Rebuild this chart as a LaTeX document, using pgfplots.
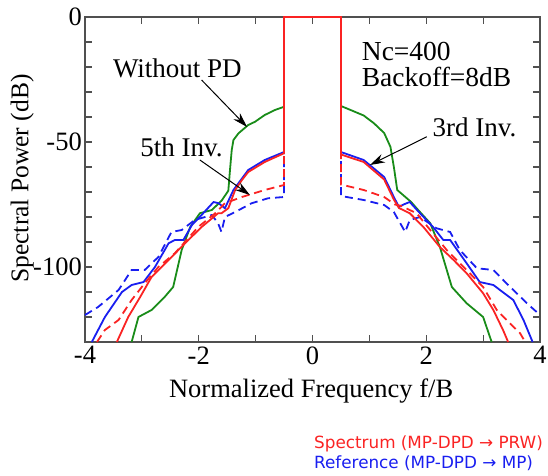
\documentclass[border=0pt]{standalone}
\usepackage{fontspec}
\setmainfont{Liberation Serif}
\newfontfamily\dejavu{DejaVu Sans}
\usepackage{pgfplots}
\pgfplotsset{compat=1.18}
\usetikzlibrary{arrows.meta}
\definecolor{cgreen}{RGB}{25,140,25}
\definecolor{cred}{RGB}{250,35,35}
\definecolor{cblue}{RGB}{25,30,240}
\definecolor{axgray}{RGB}{80,80,80}
\begin{document}
\begin{tikzpicture}[x=1pt,y=1pt]
\path[use as bounding box] (0,0) rectangle (548,475);
\begin{axis}[
  at={(85pt,133pt)}, anchor=south west,
  width=455pt, height=325pt, scale only axis,
  xmin=-4, xmax=4, ymin=-130, ymax=0,
  clip=false,
  xtick={-4,-3,...,4}, xticklabels={-4,,-2,,0,,2,,4},
  ytick={-120,-110,...,0}, yticklabels={,,-100,,,,,-50,,,,,0},
  tick align=inside, major tick length=7pt,
  every tick/.style={line width=1.1pt, axgray},
  axis line style={line width=1.4pt, axgray},
  ticklabel style={font=\fontsize{26.5}{30}\selectfont},
  yticklabel style={inner sep=0pt, xshift=-3pt},
  xticklabel style={yshift=-1pt},
  xlabel={Normalized Frequency f/B},
  xlabel style={at={(rel axis cs:0.497,-0.172)}, anchor=base, font=\fontsize{26.5}{30}\selectfont, inner sep=0pt},
  ylabel={Spectral Power (dB)},
  ylabel style={at={(rel axis cs:-0.138,0.503)}, anchor=center, rotate=0, font=\fontsize{25.5}{30}\selectfont, inner sep=0pt},
  every axis plot/.append style={line width=1.8pt},
]
% Without PD
\addplot[cgreen] coordinates {
(-3.18,-130) (-3.06,-120) (-2.83,-117.2) (-2.6,-112) (-2.45,-108) (-2.3,-93.2) (-2.15,-84) (-1.98,-78.5) (-1.77,-77.2) (-1.6,-73.5) (-1.48,-69.5) (-1.45,-61) (-1.42,-53.2) (-1.39,-49.2) (-1.3,-46.5) (-1.13,-43.2) (-1.01,-41.9) (-0.84,-39.2) (-0.66,-37.2) (-0.5,-35.9)
(-0.5,0) (0.5,0)
(0.5,-35.6) (0.67,-37.2) (0.9,-39.4) (1.08,-42.5) (1.26,-46.4) (1.37,-51.9) (1.43,-59.9) (1.49,-69.2) (1.73,-73.9) (1.85,-77) (2.07,-82.5) (2.24,-92) (2.45,-108) (2.71,-114.5) (3.0,-120) (3.15,-130)
};
% Reference 5th (blue dashed)
\addplot[cblue, dash pattern=on 8pt off 5pt] coordinates {
(-4,-119.2) (-3.77,-116) (-3.41,-109.2) (-3.18,-101.2) (-2.95,-101.2) (-2.71,-96) (-2.48,-86) (-2.3,-85.2) (-2.07,-81.2) (-1.77,-79.2) (-1.66,-82.5) (-1.6,-86) (-1.54,-80) (-1.36,-78) (-1.07,-74.5) (-0.78,-72.5) (-0.5,-72)
(-0.5,0) (0.5,0)
(0.5,-71.6) (0.9,-73.2) (1.26,-75.2) (1.43,-78) (1.48,-80) (1.63,-86) (1.71,-81.2) (1.89,-80) (2.18,-84.5) (2.42,-86) (2.59,-93.2) (2.89,-100.5) (3.18,-101.2) (3.41,-106.5) (3.77,-114.5) (4.0,-119.2)
};
% Reference 3rd (blue solid)
\addplot[cblue] coordinates {
(-3.88,-130) (-3.65,-120) (-3.35,-110) (-3.18,-107.2) (-2.97,-106) (-2.77,-100) (-2.53,-90.5) (-2.42,-89.2) (-2.27,-89.2) (-2.12,-83.2) (-1.95,-79.2) (-1.74,-74) (-1.65,-74.5) (-1.54,-76.5) (-1.39,-69.2) (-1.13,-61.2) (-0.84,-57.2) (-0.5,-54)
(-0.5,0) (0.5,0)
(0.5,-54) (0.9,-57.2) (1.26,-64) (1.43,-72) (1.52,-76) (1.6,-75) (1.71,-74) (1.89,-78.5) (2.12,-84) (2.3,-89.2) (2.42,-89.2) (2.71,-98.5) (2.94,-106) (3.18,-107.2) (3.53,-113.2) (3.71,-121.2) (3.87,-130)
};
% Spectrum 5th (red dashed)
\addplot[cred, dash pattern=on 8pt off 5pt] coordinates {
(-3.79,-130) (-3.65,-125.2) (-3.41,-121.2) (-3.18,-113.2) (-2.95,-106.5) (-2.71,-100) (-2.42,-94.5) (-2.01,-84) (-1.71,-78.5) (-1.54,-74.5) (-1.24,-72) (-0.84,-69.2) (-0.5,-67.2)
(-0.5,0) (0.5,0)
(0.5,-67) (0.9,-69.2) (1.26,-72) (1.45,-75) (1.55,-75.5) (1.83,-78.5) (2.07,-85.2) (2.36,-93.2) (2.71,-101.2) (3.0,-108) (3.24,-117.2) (3.47,-122.5) (3.65,-126.5) (3.74,-130)
};
% Spectrum 3rd (red solid)
\addplot[cred] coordinates {
(-3.44,-130) (-3.24,-120) (-3.03,-112) (-2.83,-104) (-2.53,-97.2) (-2.24,-90.5) (-1.95,-84) (-1.66,-78.5) (-1.6,-78.5) (-1.48,-76.5) (-1.36,-69.2) (-1.24,-65.2) (-1.13,-62) (-0.84,-58) (-0.5,-54.5)
(-0.5,0) (0.5,0)
(0.5,-55) (0.9,-58) (1.26,-65) (1.43,-73) (1.52,-76.4) (1.71,-78.5) (1.95,-84) (2.24,-92) (2.48,-97.2) (2.71,-102.5) (3.0,-110.5) (3.18,-117.2) (3.35,-125.2) (3.44,-130)
};
% annotations
\node[anchor=base west, inner sep=0pt, font=\fontsize{27}{30}\selectfont] at (axis cs:-3.51,-24.3) {Without PD};
\node[anchor=base west, inner sep=0pt, font=\fontsize{27}{30}\selectfont] at (axis cs:-3.03,-55.9) {5th Inv.};
\node[anchor=base west, inner sep=0pt, font=\fontsize{27}{30}\selectfont] at (axis cs:2.11,-47.9) {3rd Inv.};
\node[anchor=base west, inner sep=0pt, font=\fontsize{27.5}{30}\selectfont] at (axis cs:0.865,-17.2) {Nc=400};
\node[anchor=base west, inner sep=0pt, font=\fontsize{27.5}{30}\selectfont] at (axis cs:0.865,-27.9) {Backoff=8dB};
\draw[line width=1pt, -{Stealth[length=15pt,width=9pt]}] (axis cs:-1.95,-25.2) -- (axis cs:-1.15,-44);
\draw[line width=1pt, -{Stealth[length=15pt,width=9pt]}] (axis cs:-1.98,-57.2) -- (axis cs:-1.1,-71.2);
\draw[line width=1pt, -{Stealth[length=15pt,width=9pt]}] (axis cs:2.01,-47.9) -- (axis cs:1.01,-59.2);
\end{axis}
\node[anchor=base west, inner sep=0pt, font=\dejavu\fontsize{16.8}{20}\selectfont, text=cred] at (314,27) {Spectrum (MP-DPD → PRW)};
\node[anchor=base west, inner sep=0pt, font=\dejavu\fontsize{16.8}{20}\selectfont, text=cblue] at (314,7) {Reference (MP-DPD → MP)};
\end{tikzpicture}
\end{document}
